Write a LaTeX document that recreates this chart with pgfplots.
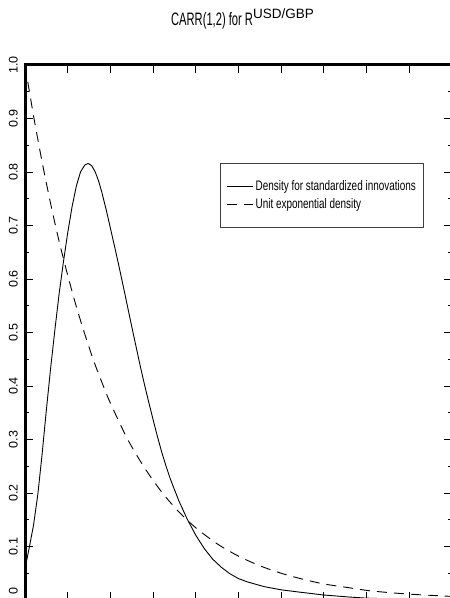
\documentclass[border=0pt]{standalone}
\usepackage{fontspec}
\setmainfont{Liberation Sans}
\newfontfamily\condfont{Liberation Sans}[FakeStretch=0.72]
\newfontfamily\titlefont{Liberation Sans}[FakeStretch=0.62]
\usepackage{pgfplots}
\pgfplotsset{compat=1.18}

\begin{document}
\begin{tikzpicture}
\begin{axis}[
  scale only axis, width=427pt, height=535pt,
  xmin=0, xmax=5, ymin=0, ymax=1,
  axis line style={line width=3pt},
  xtick={0,0.5,1,1.5,2,2.5,3,3.5,4,4.5,5}, xticklabels={},
  ytick={0,0.1,0.2,0.3,0.4,0.5,0.6,0.7,0.8,0.9,1},
  yticklabels={\hspace*{18pt}0,0.1,0.2,0.3,0.4,0.5,0.6,0.7,0.8,0.9,1.0},
  minor ytick={0.05,0.15,0.25,0.35,0.45,0.55,0.65,0.75,0.85,0.95},
  tick align=inside,
  major tick length=8pt, minor tick length=4pt,
  every tick/.style={black, line width=0.8pt},
  yticklabel style={rotate=90, anchor=south, inner sep=0pt, yshift=7pt,
    font=\fontsize{12.5}{12.5}\selectfont},
  title={\titlefont\fontsize{18}{20}\selectfont CARR(1,2) for R\raisebox{7pt}{\rmfamily\fontsize{13.5}{13.5}\selectfont USD/GBP}},
  title style={at={(0.5,1)}, anchor=base, yshift=33pt, xshift=4pt, inner sep=0pt},
  legend style={at={(0.935,0.817)}, anchor=north east, draw=black!75, line width=0.8pt,
    font=\condfont\fontsize{13.8}{15}\selectfont, inner xsep=6pt, inner ysep=15pt, row sep=3pt},
  legend cell align=left,
  legend image code/.code={\draw[#1] (0pt,0pt) -- (26pt,0pt);},
]
\coordinate (SW) at (rel axis cs:0,0);
\addplot[black, line width=0.9pt] coordinates {
(0.00,0.058) (0.05,0.098) (0.10,0.140) (0.15,0.197) (0.20,0.272) (0.25,0.355)
(0.30,0.433) (0.35,0.505) (0.40,0.573) (0.45,0.632) (0.50,0.686) (0.55,0.734)
(0.60,0.773) (0.65,0.800) (0.70,0.813) (0.74,0.816) (0.78,0.812) (0.82,0.801) (0.86,0.784)
(0.90,0.762) (0.95,0.730) (1.00,0.695) (1.05,0.660) (1.10,0.624) (1.15,0.587)
(1.20,0.549) (1.25,0.511) (1.30,0.474) (1.35,0.437) (1.40,0.402) (1.45,0.369)
(1.50,0.337) (1.55,0.306) (1.60,0.277) (1.65,0.251) (1.70,0.227) (1.80,0.186) (1.90,0.151)
(2.00,0.121) (2.10,0.096) (2.20,0.076) (2.30,0.061) (2.40,0.049) (2.50,0.040)
(2.60,0.034) (2.80,0.025) (3.00,0.019) (3.20,0.0150) (3.50,0.0093) (3.80,0.0055)
(4.00,0.0035) (4.50,0.001) (5.00,0.000)
};
\addlegendentry{Density for standardized innovations}
\addplot[black, line width=0.9pt, smooth, dash pattern=on 10pt off 7pt] coordinates {
(0,1) (0.1,0.905) (0.2,0.819) (0.3,0.741) (0.4,0.670) (0.5,0.607) (0.6,0.549)
(0.7,0.497) (0.8,0.449) (0.9,0.407) (1.0,0.368) (1.2,0.301) (1.4,0.247)
(1.6,0.202) (1.8,0.165) (2.0,0.135) (2.25,0.105) (2.5,0.082) (2.75,0.064)
(3.0,0.050) (3.25,0.039) (3.5,0.030) (3.75,0.024) (4.0,0.018) (4.25,0.014)
(4.5,0.011) (4.75,0.0087) (5.0,0.0067)
};
\addlegendentry{Unit exponential density}
\end{axis}
\pgfresetboundingbox
\path[use as bounding box] ([xshift=-25pt,yshift=2pt]SW) rectangle ++(450pt,598pt);
\end{tikzpicture}
\end{document}
